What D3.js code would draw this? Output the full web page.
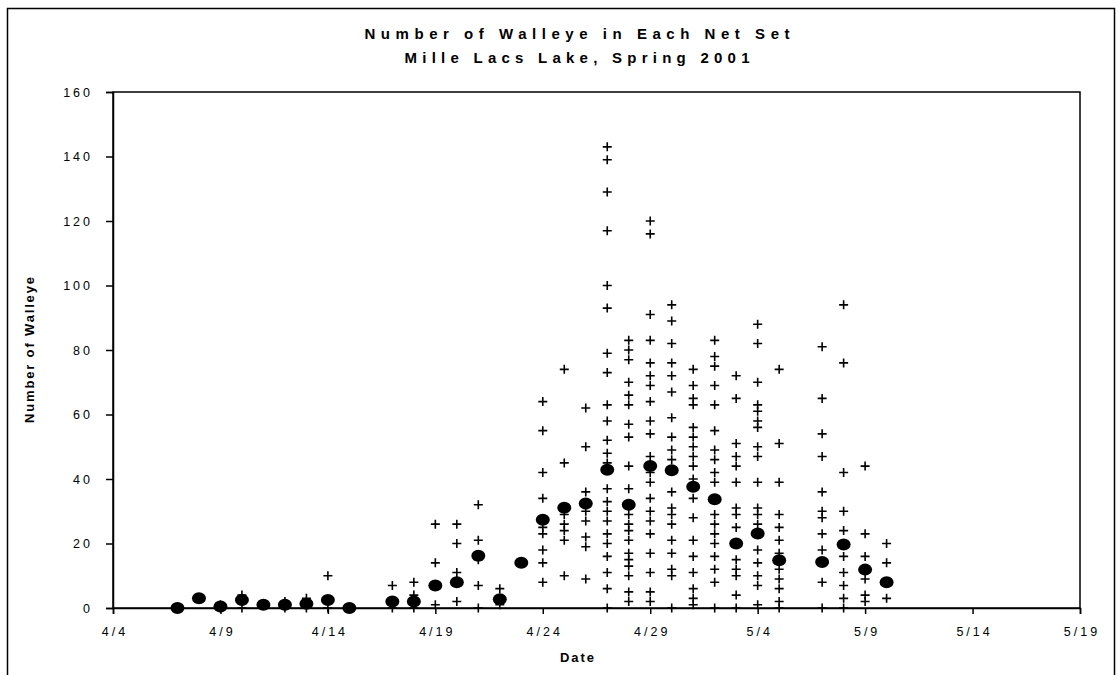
<!DOCTYPE html>
<html>
<head>
<meta charset="utf-8">
<script src="https://cdn.jsdelivr.net/npm/d3@7"></script>
<style>
  body { margin: 0; background: #fff; }
  text { font-family: "Liberation Sans", Arial, sans-serif; fill: #000; }
</style>
</head>
<body>
<svg id="chart" width="1120" height="675"></svg>
<script>

// net set dates, mean catch per date, and the catch of each net set
var setDates = ["4/7", "4/8", "4/9", "4/10", "4/11", "4/12", "4/13", "4/14", "4/15",
    "4/17", "4/18", "4/19", "4/20", "4/21", "4/22", "4/23", "4/24", "4/25", "4/26",
    "4/27", "4/28", "4/29", "4/30", "5/1", "5/2", "5/3", "5/4", "5/5",
    "5/7", "5/8", "5/9", "5/10"]
var meanCatch = [0, 3, 0.5, 2.5, 1, 1, 1.3, 2.5, 0,
    2, 2, 7, 8, 16.2, 2.7, 14, 27.4, 31.1, 32.4,
    42.9, 32, 44, 42.7, 37.6, 33.7, 20, 23.1, 14.8,
    14.3, 19.7, 11.9, 8]
var netCatch = [
    [0],
    [3],
    [0, 1],
    [0, 4],
    [1],
    [0, 2],
    [0, 3],
    [0, 10],
    [0],
    [0, 7],
    [0, 4, 8],
    [1, 14, 26],
    [2, 11, 20, 26],
    [0, 7, 15, 21, 32],
    [1, 6],
    [14],
    [8, 14, 18, 23, 25, 34, 42, 55, 64],
    [10, 21, 24, 26, 29, 45, 74],
    [9, 19, 22, 27, 30, 36, 50, 62],
    [0, 6, 11, 16, 20, 23, 27, 30, 33, 37, 45, 48, 52, 58, 63, 73, 79, 93, 100, 117, 129, 139, 143],
    [2, 5, 10, 13, 15, 17, 21, 24, 26, 29, 37, 44, 53, 57, 63, 66, 70, 77, 80, 83],
    [2, 5, 11, 17, 23, 27, 30, 34, 39, 42, 47, 54, 58, 64, 69, 72, 76, 83, 91, 116, 120],
    [0, 10, 12, 17, 21, 26, 29, 31, 36, 46, 49, 53, 59, 67, 72, 76, 82, 89, 94],
    [1, 3, 6, 11, 16, 21, 28, 34, 40, 44, 47, 50, 53, 56, 63, 65, 69, 74],
    [0, 8, 12, 16, 20, 23, 26, 29, 39, 42, 46, 49, 55, 63, 69, 75, 78, 83],
    [0, 4, 10, 12, 15, 25, 29, 31, 39, 44, 47, 51, 65, 72],
    [1, 7, 10, 14, 18, 26, 29, 31, 39, 47, 50, 56, 58, 61, 63, 70, 82, 88],
    [0, 2, 6, 9, 12, 17, 21, 25, 29, 39, 51, 74],
    [0, 8, 18, 23, 28, 30, 36, 47, 54, 65, 81],
    [0, 3, 7, 11, 16, 24, 30, 42, 76, 94],
    [2, 4, 9, 16, 23, 44],
    [3, 14, 20]
]
var yTicks = [0, 20, 40, 60, 80, 100, 120, 140, 160]
var xTicks = ["4/4", "4/9", "4/14", "4/19", "4/24", "4/29", "5/4", "5/9", "5/14", "5/19"]

function toDate(s) {
    var p = s.split("/")
    return new Date(Date.UTC(2001, +p[0] - 1, +p[1]))
}

var svg = d3.select("#chart")
var plotL = 113, plotR = 1080, plotT = 92, plotB = 608

var x = d3.scaleUtc()
    .domain([toDate(xTicks[0]), toDate(xTicks[xTicks.length - 1])])
    .range([plotL, plotR])
var y = d3.scaleLinear().domain([0, 160]).range([plotB, plotT])

// outer chart frame
svg.append("rect")
    .attr("x", 7.5).attr("y", 8.5)
    .attr("width", 1107).attr("height", 700)
    .attr("fill", "none").attr("stroke", "#000").attr("stroke-width", 1.5)

// titles
var title = svg.append("g").attr("font-weight", "bold").attr("font-size", 15)
title.append("text").attr("x", 577).attr("y", 39).attr("text-anchor", "middle")
    .attr("textLength", 425).attr("lengthAdjust", "spacing")
    .text("Number of Walleye in Each Net Set")
title.append("text").attr("x", 577).attr("y", 63).attr("text-anchor", "middle")
    .attr("textLength", 345).attr("lengthAdjust", "spacing")
    .text("Mille Lacs Lake, Spring 2001")

// axes
var yAxis = svg.append("g")
    .attr("transform", "translate(" + plotL + ",0)")
    .call(d3.axisLeft(y).tickValues(yTicks).tickSize(7).tickPadding(16))
var xAxis = svg.append("g")
    .attr("transform", "translate(0," + plotB + ")")
    .call(d3.axisBottom(x).tickValues(xTicks.map(toDate)).tickSize(6).tickPadding(13)
        .tickFormat(function(d, i) { return xTicks[i] }))
;[yAxis, xAxis].forEach(function(g) {
    g.attr("font-family", null).attr("font-size", null)
    g.selectAll("text").attr("font-size", 12.5).attr("letter-spacing", "3px")
    g.selectAll("line, path").attr("stroke", "#000").attr("stroke-width", 1.5)
})
xAxis.selectAll("text").attr("dx", "1.5px")
yAxis.selectAll("text").attr("dx", "3px")

// plot box
svg.append("rect")
    .attr("x", plotL).attr("y", plotT)
    .attr("width", plotR - plotL).attr("height", plotB - plotT)
    .attr("fill", "none").attr("stroke", "#000").attr("stroke-width", 1.5)

svg.append("text")
    .attr("transform", "translate(34," + ((plotT + plotB) / 2) + ") rotate(-90)")
    .attr("text-anchor", "middle").attr("font-size", 13).attr("font-weight", "bold")
    .attr("textLength", 146).attr("lengthAdjust", "spacing")
    .text("Number of Walleye")
svg.append("text")
    .attr("x", 578).attr("y", 662).attr("text-anchor", "middle")
    .attr("font-size", 13).attr("font-weight", "bold").attr("letter-spacing", "2px")
    .text("Date")

// each net set as a plus
var pts = []
setDates.forEach(function(d, i) {
    netCatch[i].forEach(function(v) { pts.push({ date: toDate(d), v: v }) })
})
svg.append("g").selectAll("path")
    .data(pts)
    .enter()
    .append("path")
    .attr("d", function(p) {
        var cx = x(p.date), cy = y(p.v)
        return "M" + (cx - 4.5) + "," + cy + "h9M" + cx + "," + (cy - 4.5) + "v9"
    })
    .attr("stroke", "#000").attr("stroke-width", 1.6)

// daily mean
svg.append("g").selectAll("ellipse")
    .data(setDates)
    .enter()
    .append("ellipse")
    .attr("cx", function(d) { return x(toDate(d)) })
    .attr("cy", function(d, i) { return y(meanCatch[i]) })
    .attr("rx", 7).attr("ry", 6)
    .attr("fill", "#000")
</script>
</body>
</html>
